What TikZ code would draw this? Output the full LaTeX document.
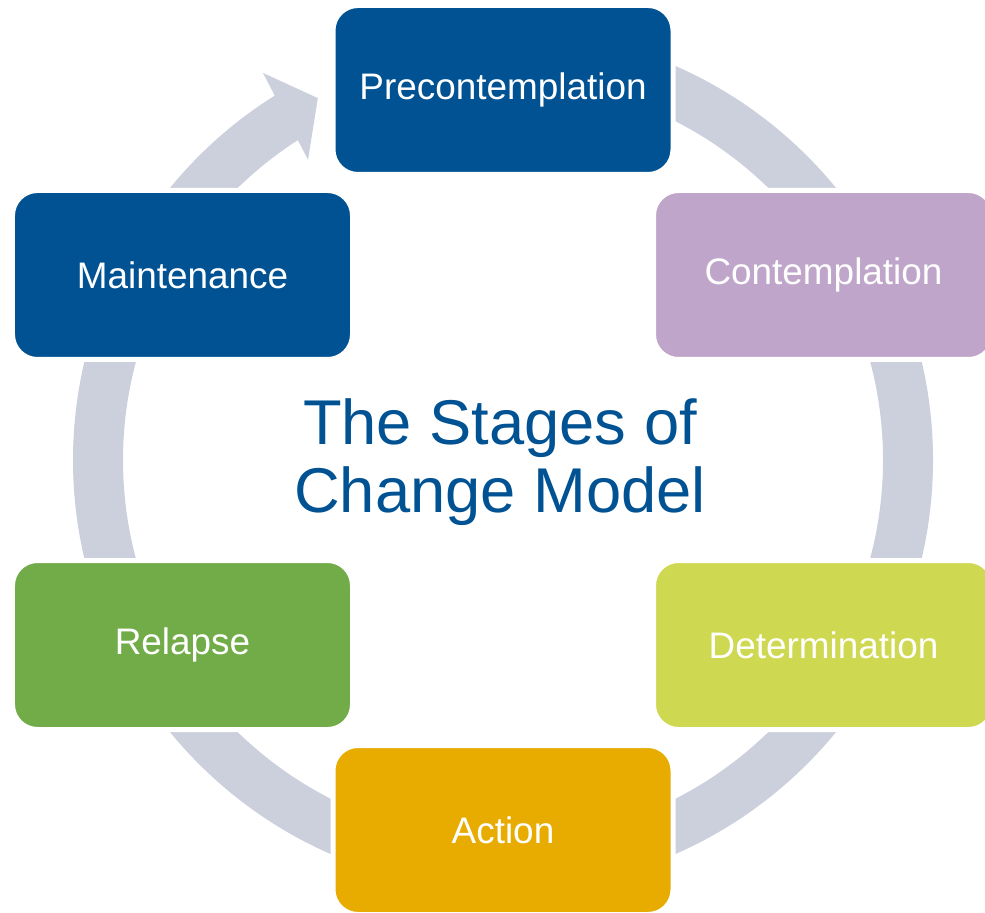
\documentclass[tikz,border=0pt]{standalone}
\usepackage{fontspec}
\setmainfont{Liberation Sans}
\usepackage{tikz}
\usetikzlibrary{calc}
\definecolor{stageblue}{RGB}{0,82,147}
\definecolor{stagelilac}{RGB}{190,165,201}
\definecolor{stagelime}{RGB}{206,216,80}
\definecolor{stagegold}{RGB}{232,172,0}
\definecolor{stagegreen}{RGB}{113,172,72}
\definecolor{ringgrey}{RGB}{204,208,221}
\tikzset{stage/.style={draw=white, line width=0.1cm, rounded corners=0.5cm,
  minimum width=6.8cm, minimum height=3.38cm, text=white,
  font=\fontsize{21}{25}\selectfont}}

\begin{document}
\begin{tikzpicture}
\useasboundingbox (0,0) rectangle (19.7,18.24);
\coordinate (c) at (10.06,9.04);

% grey cycle arrow behind the boxes
\draw[ringgrey, line width=1cm] ($(c)+(90:8.1)$) arc[start angle=90, end angle=-238.5, radius=8.1];
\fill[ringgrey] ($(c)+(121.8:9.11)$) -- ($(c)+(117.1:8.13)$) -- ($(c)+(123.0:7.16)$) -- cycle;

\node[stage, fill=stageblue] (pre) at (10.06,16.44) {Precontemplation};
\node[stage, fill=stagelilac] (con) at (16.47,12.74) {Contemplation};
\node[stage, fill=stagelime] (det) at (16.47,5.34) {Determination};
\node[stage, fill=stagegold] (act) at (10.06,1.64) {Action};
\node[stage, fill=stagegreen] (rel) at (3.65,5.34) {Relapse};
\node[stage, fill=stageblue] (mai) at (3.65,12.74) {Maintenance};

\node[text=stageblue, align=center, font=\fontsize{36}{38.7}\selectfont] (title) at (10.0,9.0) {The Stages of\\Change Model};
\end{tikzpicture}
\end{document}
